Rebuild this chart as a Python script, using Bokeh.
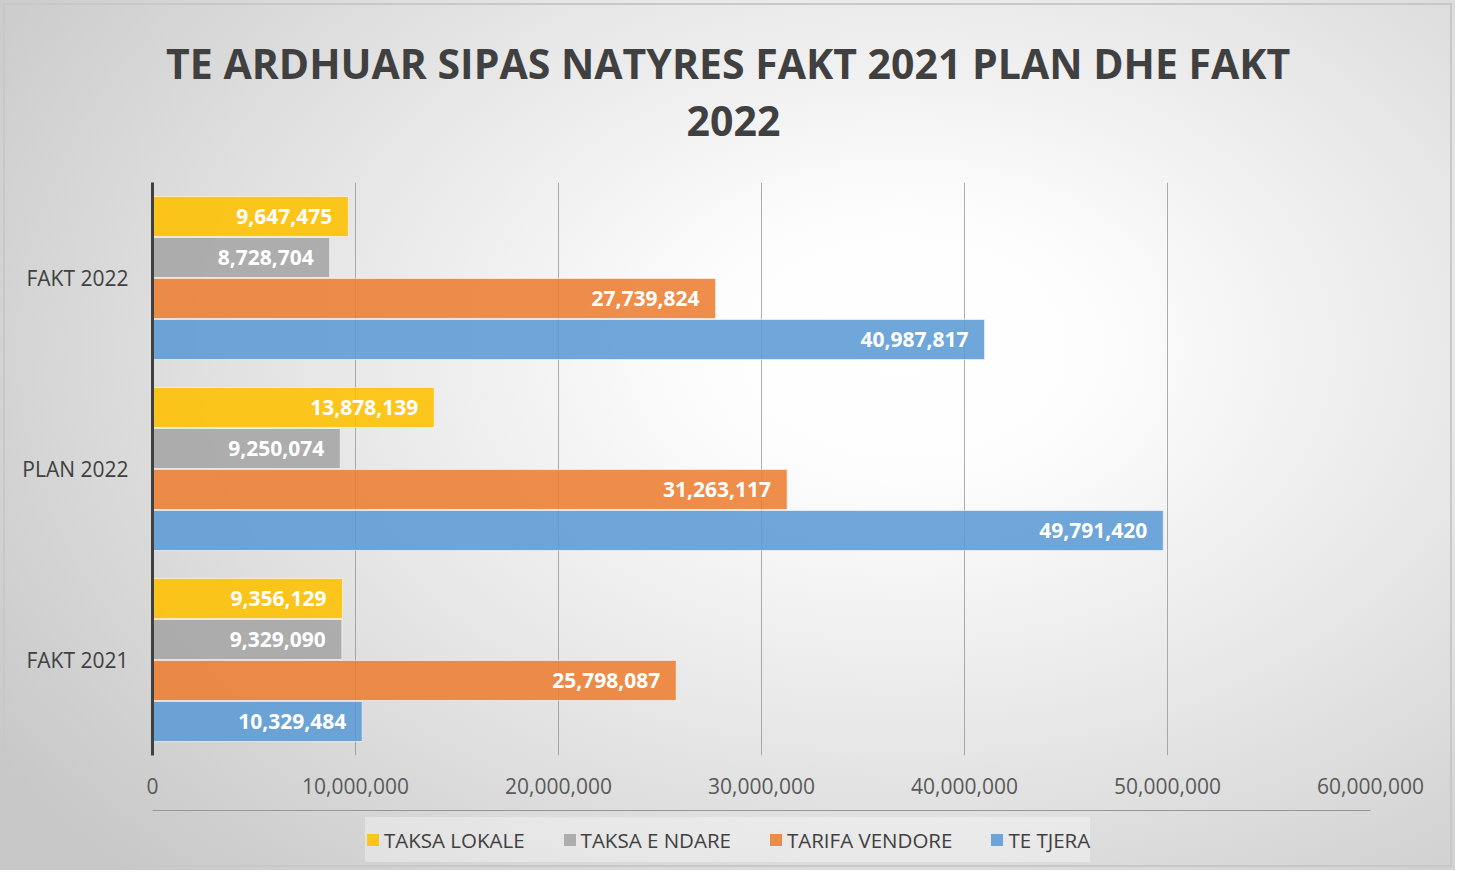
from bokeh.plotting import figure
from bokeh.layouts import column
from bokeh.models import (ColumnDataSource, LabelSet, Label, Legend, LegendItem,
                          NumeralTickFormatter, FixedTicker)
from bokeh.core.properties import value
from bokeh.transform import dodge
from bokeh.embed import file_html
from bokeh.resources import INLINE

categories = ["FAKT 2021", "PLAN 2022", "FAKT 2022"]
series_names = ["TAKSA LOKALE", "TAKSA E NDARE", "TARIFA VENDORE", "TE TJERA"]
taksa_lokale = [9356129, 13878139, 9647475]
taksa_e_ndare = [9329090, 9250074, 8728704]
tarifa_vendore = [25798087, 31263117, 27739824]
te_tjera = [10329484, 49791420, 40987817]
x_ticks = [0, 10000000, 20000000, 30000000, 40000000, 50000000, 60000000]
title_line1 = "TE ARDHUAR SIPAS NATYRES  FAKT 2021 PLAN DHE FAKT"
title_line2 = "2022"

colors = ["#FFC000", "#A5A5A5", "#ED7D31", "#5B9BD5"]
offsets = [0.322, 0.107, -0.107, -0.322]
series_values = [taksa_lokale, taksa_e_ndare, tarifa_vendore, te_tjera]

FONT = "Open Sans"
FW, BL, BR = 1218, 152, 85   # frame width, left / right borders (shared so frames align)


def strip(h):
    f = figure(frame_width=FW, frame_height=h, min_border_left=BL, min_border_right=BR,
               min_border_top=0, min_border_bottom=0, x_range=(0, 1), y_range=(0, 1),
               x_axis_location=None, y_axis_location=None,
               output_backend="svg", toolbar_location=None, title=None)
    f.background_fill_alpha = 0
    f.border_fill_alpha = 0
    f.outline_line_color = None
    f.xgrid.visible = False
    f.ygrid.visible = False
    return f


# ---------- header (title) ----------
head = strip(182)
for txt, yy in [(title_line1, 120), (title_line2, 62)]:
    head.add_layout(Label(x=733 - BL, y=yy, x_units="screen", y_units="screen", text=txt,
                          text_align="center", text_baseline="middle", text_font=FONT,
                          text_font_size="41px", text_font_style="bold",
                          text_color="#404040"))

# ---------- main chart ----------
p = figure(
    y_range=categories, x_range=(0, 60000000),
    frame_width=FW, frame_height=573,
    min_border_left=BL, min_border_right=BR, min_border_top=0, min_border_bottom=55,
    output_backend="svg", toolbar_location=None, title=None,
)
p.background_fill_alpha = 0
p.border_fill_alpha = 0
p.outline_line_color = None

sources = []
for name, vals, col, off in zip(series_names, series_values, colors, offsets):
    src = ColumnDataSource(dict(cat=categories, val=vals, lab=[f"{v:,}" for v in vals]))
    sources.append(src)
    p.hbar(y=dodge("cat", off, range=p.y_range), right="val", left=0, height=0.21,
           source=src, fill_color=col, fill_alpha=0.88,
           line_color="#ffffff", line_alpha=0.6, line_width=1)
    p.add_layout(LabelSet(x="val", y=dodge("cat", off, range=p.y_range), text="lab", source=src,
                          x_offset=-16, text_align="right", text_baseline="middle",
                          text_color="white", text_font=value(FONT), text_font_style="bold",
                          text_font_size="21px"))

p.xaxis.ticker = FixedTicker(ticks=x_ticks)
p.xaxis.formatter = NumeralTickFormatter(format="0,0")
p.xaxis.axis_line_color = None
p.xaxis.major_tick_line_color = None
p.xaxis.minor_tick_line_color = None
p.xaxis.major_label_standoff = 16
p.xaxis.major_label_text_font = FONT
p.xaxis.major_label_text_font_size = "21px"
p.xaxis.major_label_text_color = "#595959"

p.yaxis.axis_line_color = "#404040"
p.yaxis.axis_line_width = 3
p.yaxis.major_tick_line_color = None
p.yaxis.minor_tick_line_color = None
p.yaxis.major_label_standoff = 18
p.yaxis.major_label_text_font = FONT
p.yaxis.major_label_text_font_size = "21px"
p.yaxis.major_label_text_color = "#404040"

p.ygrid.grid_line_color = None
p.xgrid.ticker = FixedTicker(ticks=x_ticks[1:])
p.xgrid.grid_line_color = "#8c8c8c"
p.xgrid.grid_line_alpha = 0.7
p.xgrid.grid_line_width = 1

# ---------- legend strip ----------
leg = strip(60)
items = []
for name, col, src in zip(series_names, colors, sources):
    # same series data; lies outside this strip's ranges, so only the legend swatch shows
    r = leg.hbar(y="val", right="val", left=0, height=0.2, source=src,
                 fill_color=col, fill_alpha=0.88, line_color=None)
    items.append(LegendItem(label=name, renderers=[r]))
legend = Legend(items=items, orientation="horizontal", location=(365 - BL, 8))
legend.label_text_font = FONT
legend.label_text_font_size = "20.5px"
legend.label_text_color = "#404040"
legend.glyph_width = 15
legend.glyph_height = 15
legend.label_height = 45
legend.label_standoff = 4
legend.spacing = 37
legend.padding = 0
legend.margin = 0
legend.border_line_color = None
legend.background_fill_color = "#ffffff"
legend.background_fill_alpha = 0.35
leg.add_layout(legend, "center")

page = column(head, p, leg, spacing=0)
page.styles = {
    "background": "radial-gradient(ellipse 75% 85% at 62% 40%, #ffffff 0%, #fdfdfd 18%, #e6e6e6 55%, #c8c8c8 100%)",
    "outline": "2px solid #c8c8c8",
    "outline-offset": "-5px",
}

open("out.html", "w").write(file_html(page, INLINE))
